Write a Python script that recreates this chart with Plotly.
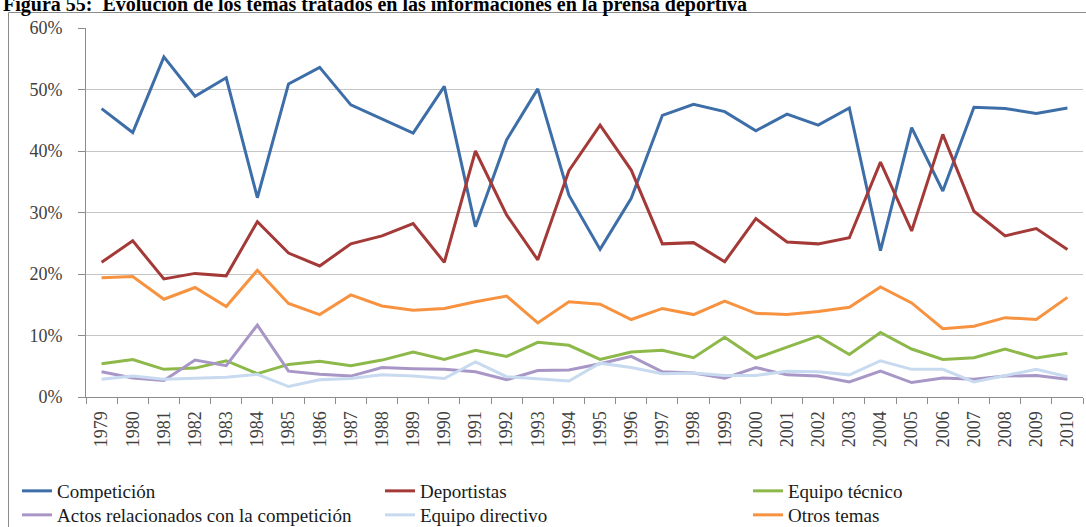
import plotly.graph_objects as go

# Years covered
years = [str(y) for y in range(1979, 2011)]

# Share of news items per topic (percent of total)
competicion = [46.9, 43.0, 55.3, 48.9, 51.9, 32.4, 50.9, 53.6, 47.5, 45.2, 42.9, 50.5,
               27.7, 41.8, 50.1, 32.8, 24.0, 32.3, 45.8, 47.6, 46.4, 43.3, 46.0, 44.2,
               47.0, 23.8, 43.8, 33.5, 47.1, 46.9, 46.1, 47.0]
deportistas = [21.9, 25.4, 19.2, 20.1, 19.7, 28.5, 23.4, 21.3, 24.9, 26.2, 28.2, 21.9,
               40.0, 29.6, 22.3, 36.8, 44.2, 36.9, 24.9, 25.1, 22.0, 29.0, 25.2, 24.9,
               25.9, 38.2, 27.0, 42.7, 30.2, 26.2, 27.4, 24.0]
equipo_tecnico = [5.4, 6.1, 4.5, 4.7, 5.9, 3.8, 5.3, 5.8, 5.1, 6.0, 7.3, 6.1,
                  7.6, 6.6, 8.9, 8.4, 6.1, 7.3, 7.6, 6.4, 9.7, 6.3, 8.1, 9.9,
                  6.9, 10.5, 7.8, 6.1, 6.4, 7.8, 6.35, 7.1]
actos = [4.1, 3.1, 2.7, 6.0, 5.1, 11.7, 4.2, 3.7, 3.4, 4.8, 4.6, 4.5,
         4.1, 2.8, 4.3, 4.4, 5.4, 6.6, 4.1, 3.9, 3.05, 4.8, 3.6, 3.4,
         2.45, 4.2, 2.35, 3.1, 2.9, 3.4, 3.5, 2.9]
equipo_directivo = [2.9, 3.4, 2.9, 3.0, 3.2, 3.7, 1.7, 2.8, 3.0, 3.6, 3.4, 3.0,
                    5.7, 3.3, 3.0, 2.6, 5.5, 4.8, 3.8, 3.9, 3.5, 3.5, 4.2, 4.1,
                    3.6, 5.9, 4.5, 4.5, 2.45, 3.5, 4.5, 3.3]
otros = [19.4, 19.6, 15.9, 17.8, 14.7, 20.6, 15.2, 13.4, 16.6, 14.8, 14.1, 14.4,
         15.5, 16.4, 12.05, 15.5, 15.1, 12.6, 14.4, 13.4, 15.6, 13.6, 13.4, 13.9,
         14.6, 17.9, 15.3, 11.1, 11.5, 12.9, 12.6, 16.2]

# (name, values, colour, legend column, legend row)
series = [
    ("Competición", competicion, "#3D6EA8", 0, 0),
    ("Deportistas", deportistas, "#A43A38", 1, 0),
    ("Equipo técnico", equipo_tecnico, "#8DB84A", 2, 0),
    ("Actos relacionados con la competición", actos, "#A897C6", 0, 1),
    ("Equipo directivo", equipo_directivo, "#C8DAF0", 1, 1),
    ("Otros temas", otros, "#F79340", 2, 1),
]

# Page geometry (pixels)
W, H = 1086, 527
L, R, T, B = 86, 1083, 28, 397
pw, ph = R - L, B - T


def px_x(x):
    return (x - L) / pw


def px_y(y):
    return (B - y) / ph


serif = "Times New Roman, Liberation Serif, DejaVu Serif, serif"
col_x = [17, 380, 748]
row_y = [491, 515]

fig = go.Figure()
legends = {}
for i, (name, vals, color, col, row) in enumerate(series):
    key = "legend" if i == 0 else f"legend{i + 1}"
    fig.add_trace(go.Scatter(
        x=years, y=[v / 100 for v in vals], name=name, mode="lines",
        line=dict(color=color, width=3), legend=key,
    ))
    legends[key] = dict(
        x=px_x(col_x[col]), y=px_y(row_y[row]),
        xanchor="left", yanchor="middle", orientation="v",
        font=dict(family=serif, size=19, color="#1a1a1a"),
        bgcolor="rgba(0,0,0,0)", itemwidth=30,
    )

fig.update_layout(
    width=W, height=H,
    template="none",
    paper_bgcolor="white", plot_bgcolor="white",
    margin=dict(l=L, r=W - R, t=T, b=H - B, autoexpand=False),
    showlegend=True,
    **legends,
    xaxis=dict(
        type="category", range=[-0.5, 31.5], tickson="boundaries",
        ticks="outside", ticklen=6, tickcolor="#8c8c8c",
        showline=True, linecolor="#8c8c8c", linewidth=1,
        showgrid=False, zeroline=False, tickangle=-90, automargin=False,
        ticklabelstandoff=6,
        tickfont=dict(family=serif, size=18, color="#404040"),
    ),
    yaxis=dict(
        range=[0, 0.6], dtick=0.1, tickformat=".0%",
        ticks="outside", ticklen=7, tickcolor="#8c8c8c",
        showline=True, linecolor="#8c8c8c", linewidth=1,
        showgrid=True, gridcolor="#c4c4c4", gridwidth=1,
        zeroline=False, automargin=False, ticklabelstandoff=12,
        tickfont=dict(family=serif, size=18, color="#404040"),
    ),
    shapes=[dict(
        type="rect", xref="paper", yref="paper", layer="below",
        x0=px_x(8.5), x1=px_x(1095), y0=px_y(540), y1=px_y(12.5),
        line=dict(color="#8c8c8c", width=1), fillcolor="rgba(0,0,0,0)",
    )],
    annotations=[dict(
        text="<b>Figura 55:  Evolución de los temas tratados en las informaciones en la prensa deportiva</b>",
        xref="paper", yref="paper", x=px_x(1), y=px_y(4),
        xanchor="left", yanchor="middle", showarrow=False,
        font=dict(family=serif, size=20, color="black"),
    )],
)

fig.write_html("out.html")
